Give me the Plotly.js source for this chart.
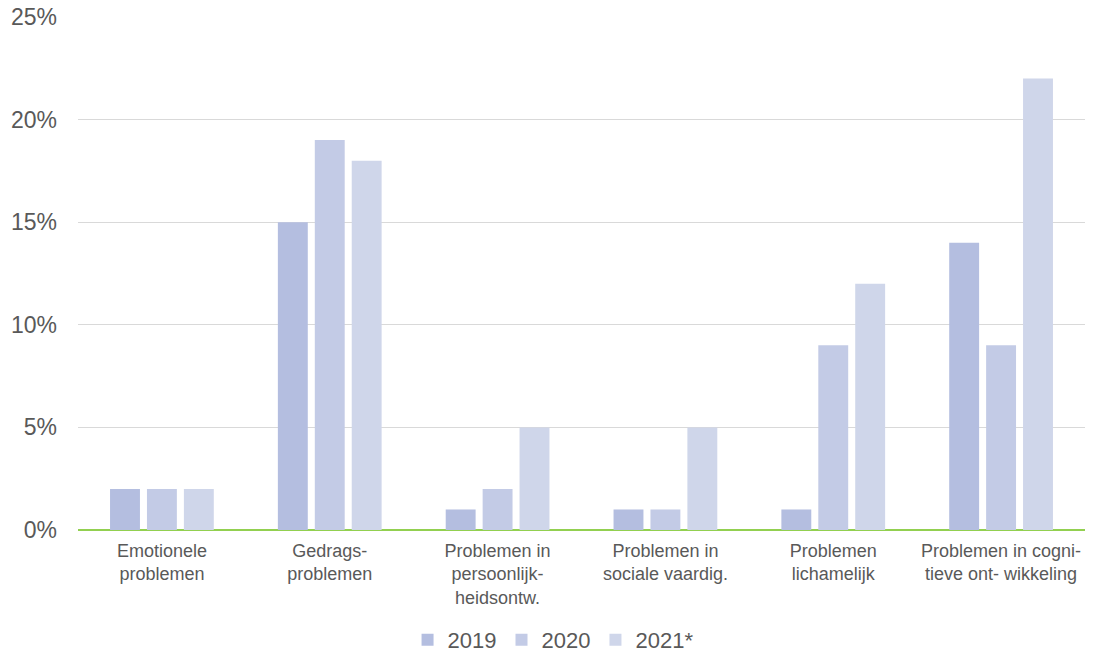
<!DOCTYPE html>
<html>
<head>
<meta charset="utf-8">
<script src="https://cdn.plot.ly/plotly-3.0.1.min.js"></script>
<style>html,body{margin:0;padding:0;background:#fff;}</style>
</head>
<body>
<div id="chart" style="width:1093px;height:657px;"></div>
<script>
const categories = [
  "Emotionele<br>problemen",
  "Gedrags-<br>problemen",
  "Problemen in<br>persoonlijk-<br>heidsontw.",
  "Problemen in<br>sociale vaardig.",
  "Problemen<br>lichamelijk",
  "Problemen in cogni-<br>tieve ont- wikkeling"
];
const v2019 = [2, 15, 1, 1, 1, 14];
const v2020 = [2, 19, 2, 1, 9, 9];
const v2021 = [2, 18, 5, 5, 12, 22];
const seriesNames = ["2019", "2020", "2021*"];
const colors = ["#b4bee0", "#c3cbe6", "#cfd6ea"];

const data = [v2019, v2020, v2021].map((vals, i) => ({
  type: "bar",
  name: seriesNames[i],
  x: categories,
  y: vals.map(v => v / 100),
  marker: {color: colors[i], line: {width: 0}},
  hoverinfo: "none"
}));

const layout = {
  width: 1093, height: 657,
  margin: {l: 78, r: 8, t: 17, b: 127, autoexpand: false},
  paper_bgcolor: "#fff", plot_bgcolor: "#fff",
  font: {family: "Arial, 'Liberation Sans', sans-serif", color: "#595959"},
  barmode: "group",
  bargap: 0.34,
  bargroupgap: 0.19,
  xaxis: {
    tickfont: {size: 18, color: "#595959"},
    showgrid: false, showline: false, ticks: "", zeroline: false,
    ticklabelstandoff: 8,
    automargin: false
  },
  yaxis: {
    range: [0, 0.25],
    tickvals: [0, 0.05, 0.10, 0.15, 0.20, 0.25],
    ticktext: ["0%", "5%", "10%", "15%", "20%", "25%"],
    tickfont: {size: 23, color: "#595959"},
    showgrid: true, gridcolor: "#d9d9d9", gridwidth: 1,
    zeroline: true, zerolinecolor: "#92d050", zerolinewidth: 2,
    showline: false, ticks: "", ticklabelstandoff: 20,
    automargin: false
  },
  legend: {
    orientation: "h", x: 0.506, xref: "container", xanchor: "center",
    y: 0.026, yref: "container", yanchor: "middle",
    font: {size: 22, color: "#595959"},
    itemwidth: 30, tracegroupgap: 0
  },
  showlegend: true
};

Plotly.newPlot("chart", data, layout, {displayModeBar: false, staticPlot: true});
</script>
</body>
</html>
